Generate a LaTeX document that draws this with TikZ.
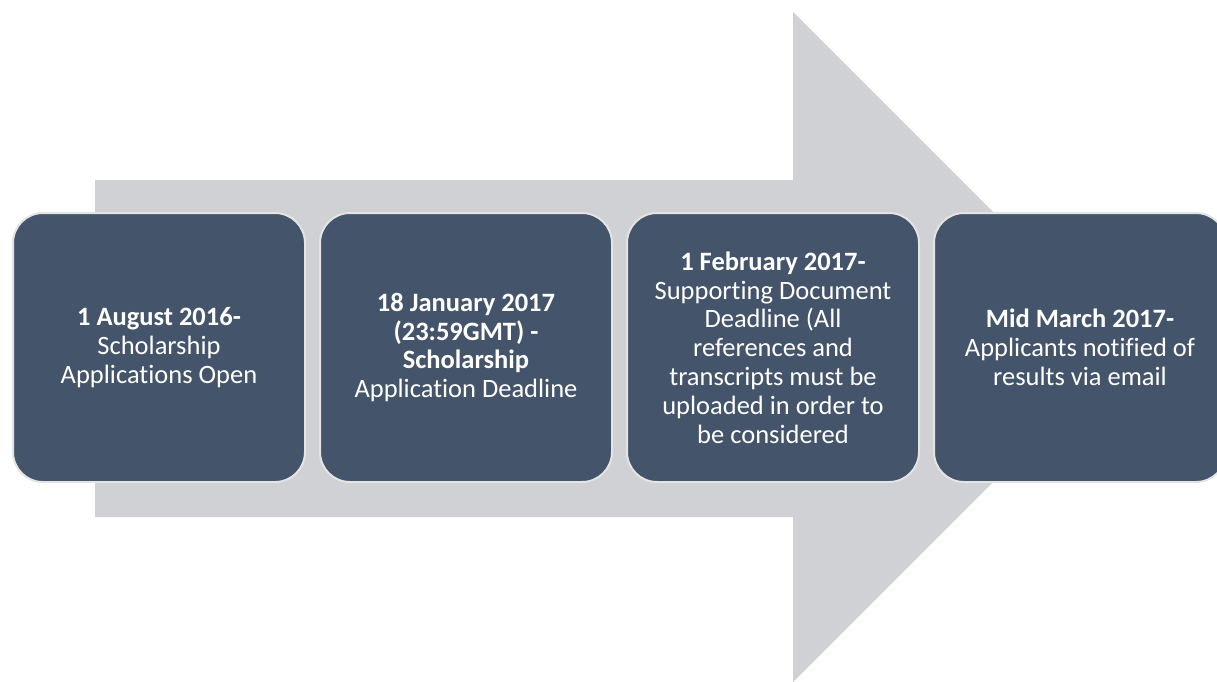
\documentclass[tikz,border=0pt]{standalone}
\usepackage{fontspec}
\setmainfont{Carlito}[Ligatures=NoCommon]
\usetikzlibrary{positioning}
\definecolor{arrowgray}{HTML}{D0D1D5}
\definecolor{slateblue}{HTML}{44546A}
\definecolor{edgegray}{HTML}{E4E4E4}
\tikzset{
	datebox/.style={draw=edgegray, line width=2pt, fill=slateblue, rounded corners=30pt,
		minimum width=292pt, minimum height=269pt, text=white, align=center,
		font=\fontsize{26.5}{28.8}\selectfont}
}

\begin{document}
\begin{tikzpicture}[x=1pt, y=-1pt]
				\useasboundingbox (0, 0) rectangle (1217, 681);
				\clip (0, 0) rectangle (1217, 681);
				
				% big arrow behind the boxes
				\fill[arrowgray] (95, 180) -- (793, 180) -- (793, 12) -- (1128, 347)
					-- (793, 682) -- (793, 517) -- (95, 517) -- cycle;
				
				\node[datebox] (aug) at (159, 347.5) {\textbf{1 August 2016-}\\ Scholarship\\ Applications Open};
				\node[datebox, right=13pt of aug] (jan) {\textbf{18 January 2017}\\ \textbf{(23:59GMT) -}\\ \textbf{Scholarship}\\ Application Deadline};
				\node[datebox, right=13pt of jan] (feb) {\textbf{1 February 2017-}\\ Supporting Document\\ Deadline (All\\ references and\\ transcripts must be\\ uploaded in order to\\ be considered};
				\node[datebox, right=13pt of feb] (mar) {\textbf{Mid March 2017-}\\ Applicants notified of\\ results via email};
			\end{tikzpicture}
\end{document}
